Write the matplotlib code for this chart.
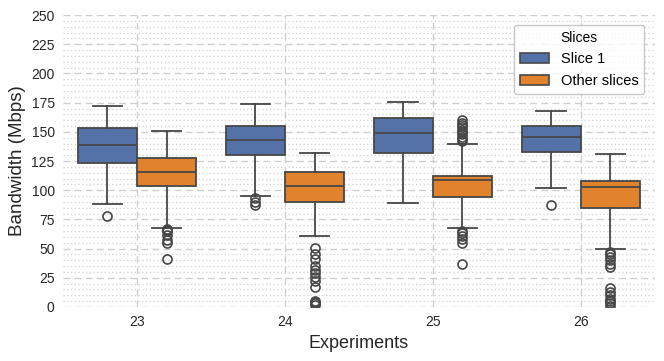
import matplotlib
matplotlib.use("Agg")
import matplotlib.pyplot as plt
from matplotlib.patches import Patch
from matplotlib.ticker import MultipleLocator

plt.rcParams['font.family'] = ['Liberation Sans', 'DejaVu Sans']

experiments = ["23", "24", "25", "26"]
slices = ["Slice 1", "Other slices"]
colors = ["#5471a8", "#e1822c"]

slice1_whislo = [88, 95, 89, 102]
slice1_q1 = [123, 130, 132, 133]
slice1_med = [139, 143, 149, 146]
slice1_q3 = [153, 155, 162, 155]
slice1_whishi = [172, 174, 176, 168]
slice1_fliers = [
    [78],
    [93, 90, 87],
    [],
    [87],
]

other_whislo = [68, 61, 68, 50]
other_q1 = [104, 90, 94, 85]
other_med = [115.5, 103.5, 108.5, 103]
other_q3 = [128, 116, 112, 108]
other_whishi = [151, 132, 140, 131]
other_fliers = [
    [67, 66, 65, 62, 57, 55, 41],
    [50.5, 45, 41, 35, 31.5, 29, 26, 22, 17, 5, 4, 3, 2],
    [160, 158, 156, 154, 152, 150, 148, 146, 144, 142, 65, 63, 61, 58, 55, 37],
    [47, 45, 43, 40, 37, 34, 16, 13, 10, 7, 5, 3, 1],
]


def make_stats(lo, q1, med, q3, hi, fl):
    return [dict(whislo=a, q1=b, med=c, q3=d, whishi=e, fliers=f)
            for a, b, c, d, e, f in zip(lo, q1, med, q3, hi, fl)]


groups = [
    make_stats(slice1_whislo, slice1_q1, slice1_med, slice1_q3, slice1_whishi, slice1_fliers),
    make_stats(other_whislo, other_q1, other_med, other_q3, other_whishi, other_fliers),
]

fig = plt.figure(figsize=(6.64, 3.61), dpi=100)
ax = fig.add_axes([0.095, 0.150, 0.891, 0.808])

line_col = "#474747"
width = 0.4
for i, stats in enumerate(groups):
    pos = [k - 0.2 + i * width for k in range(len(experiments))]
    ax.bxp(stats, positions=pos, widths=width, patch_artist=True,
           capwidths=width * 0.5,
           boxprops=dict(facecolor=colors[i], edgecolor=line_col, linewidth=1.3),
           medianprops=dict(color=line_col, linewidth=1.3),
           whiskerprops=dict(color=line_col, linewidth=1.3),
           capprops=dict(color=line_col, linewidth=1.3),
           flierprops=dict(marker="o", markersize=6.5, markerfacecolor="none",
                           markeredgecolor=line_col, markeredgewidth=1.2),
           zorder=3)

ax.set_xlim(-0.5, len(experiments) - 0.5)
ax.set_xticks(range(len(experiments)))
ax.set_xticklabels(experiments)
ax.set_ylim(0, 250)
ax.yaxis.set_major_locator(MultipleLocator(25))
ax.yaxis.set_minor_locator(MultipleLocator(5))

ax.grid(which="major", axis="both", color="#cfcfcf", linestyle=(0, (5, 3)), linewidth=1.0, zorder=0)
ax.grid(which="minor", axis="y", color="#d0d0d0", linestyle=(0, (1, 2)), linewidth=0.9, zorder=0)
ax.set_axisbelow(True)
for s in ax.spines.values():
    s.set_visible(False)
ax.tick_params(which="both", length=0, labelsize=10, colors="#262626", pad=6)

ax.set_xlabel("Experiments", fontsize=13, color="#262626")
ax.set_ylabel("Bandwidth (Mbps)", fontsize=13.5, color="#262626")

handles = [Patch(facecolor=c, edgecolor=line_col, linewidth=1.2, label=l)
           for c, l in zip(colors, slices)]
leg = ax.legend(handles=handles, title="Slices", loc="upper right", fontsize=10.5,
                title_fontsize=10, frameon=True, fancybox=True,
                bbox_to_anchor=(0.995, 0.99))
leg.get_frame().set_edgecolor("#bbbbbb")
leg.get_frame().set_facecolor("white")
leg.get_frame().set_alpha(0.8)

fig.savefig("out.png", dpi=100)
